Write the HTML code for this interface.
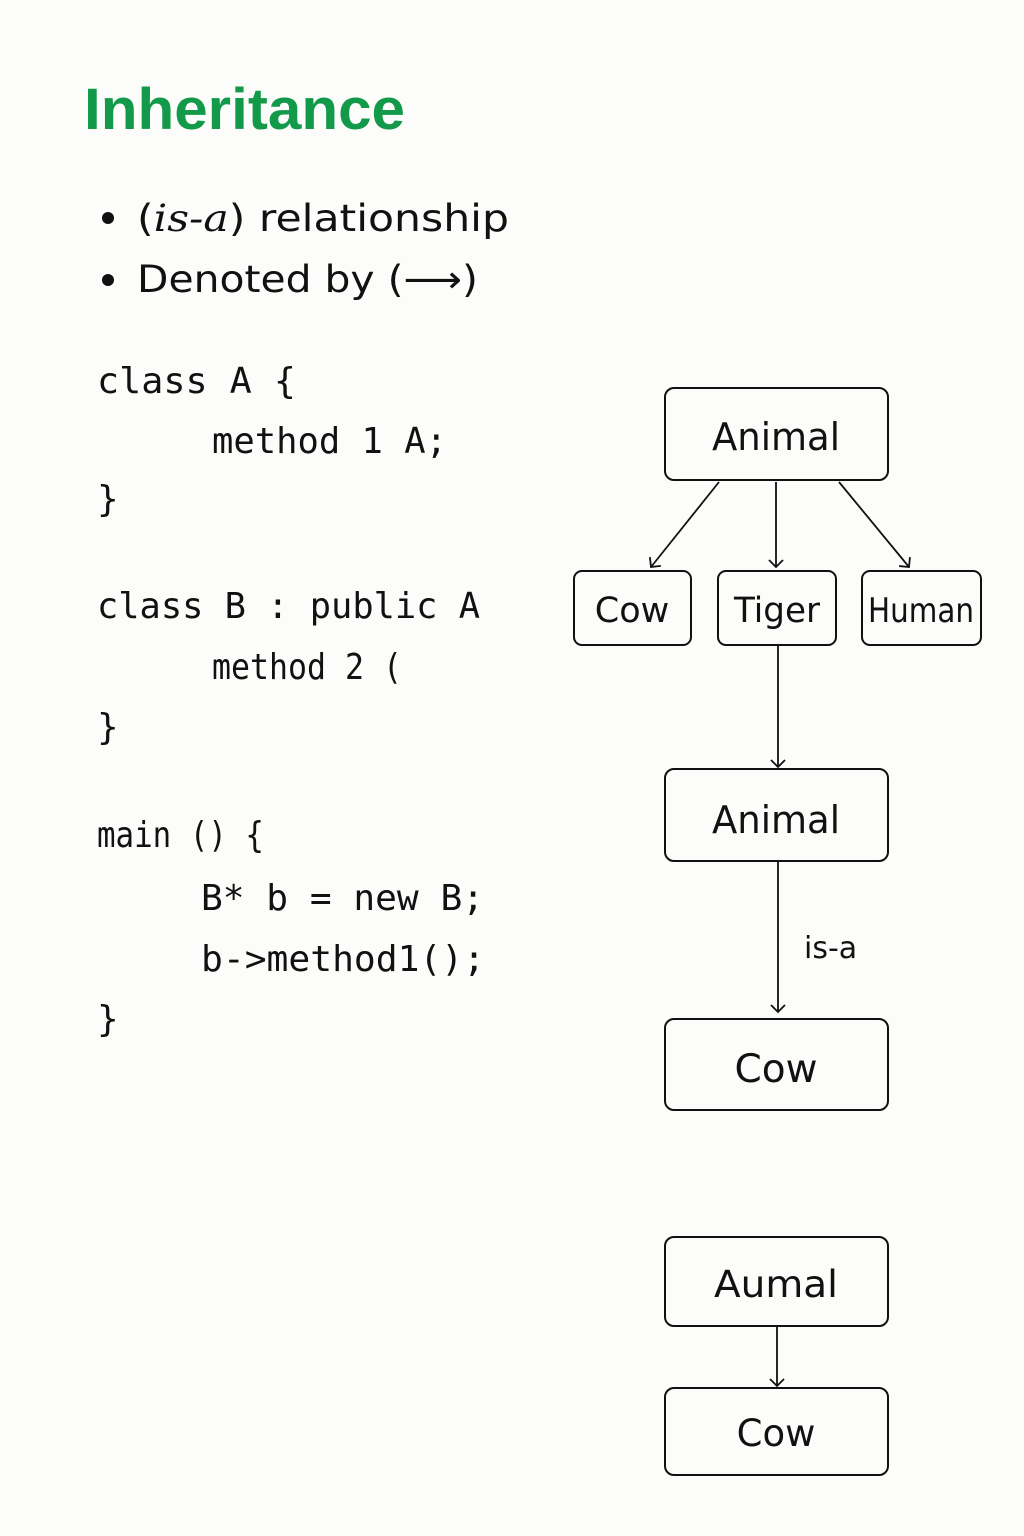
<!DOCTYPE html>
<html><head><meta charset="utf-8"><style>
html,body{margin:0;padding:0;background:#fcfcfa;}
svg{display:block;}
.m{font-family:"DejaVu Sans Mono","Liberation Mono",monospace;font-size:36px;fill:#111;}
.s{font-family:"DejaVu Sans","Liberation Sans",sans-serif;fill:#111;}
</style></head><body>
<svg width="1024" height="1536" viewBox="0 0 1024 1536" xmlns="http://www.w3.org/2000/svg">
<rect width="1024" height="1536" fill="#fcfcfa"/>
<defs><marker id="a" markerWidth="16" markerHeight="16" refX="8" refY="8" orient="auto" markerUnits="userSpaceOnUse"><path d="M1,1 L8,8 L1,15" fill="none" stroke="#111" stroke-width="1.8"/></marker></defs>
<text x="84" y="129" font-family="Liberation Sans,sans-serif" font-weight="bold" font-size="58" fill="#12994a" textLength="321" lengthAdjust="spacingAndGlyphs">Inheritance</text>
<circle cx="108" cy="218" r="6" fill="#111"/>
<circle cx="108" cy="280" r="6" fill="#111"/>
<text class="s" x="137" y="231" font-size="37" textLength="372" lengthAdjust="spacingAndGlyphs">(<tspan font-style="italic" font-family="DejaVu Serif,serif">is-a</tspan>)  relationship</text>
<text class="s" x="137" y="292" font-size="37" textLength="341" lengthAdjust="spacingAndGlyphs">Denoted by  (⟶)</text>
<text class="m" x="97" y="393" textLength="199" lengthAdjust="spacingAndGlyphs">class A {</text>
<text class="m" x="212" y="453" textLength="235" lengthAdjust="spacingAndGlyphs">method 1  A;</text>
<text class="m" x="97" y="511">}</text>
<text class="m" x="97" y="618" textLength="383" lengthAdjust="spacingAndGlyphs">class B : public A</text>
<text class="m" x="212" y="679" textLength="190" lengthAdjust="spacingAndGlyphs">method 2 (</text>
<text class="m" x="97" y="739">}</text>
<text class="m" x="97" y="847" textLength="167" lengthAdjust="spacingAndGlyphs">main () {</text>
<text class="m" x="201" y="910" textLength="283" lengthAdjust="spacingAndGlyphs">B* b = new B;</text>
<text class="m" x="201" y="971" textLength="284" lengthAdjust="spacingAndGlyphs">b->method1();</text>
<text class="m" x="97" y="1031">}</text>
<g fill="none" stroke="#111" stroke-width="2">
<rect x="665" y="388" width="223" height="92" rx="9"/>
<rect x="574" y="571" width="117" height="74" rx="8"/>
<rect x="718" y="571" width="118" height="74" rx="8"/>
<rect x="862" y="571" width="119" height="74" rx="8"/>
<rect x="665" y="769" width="223" height="92" rx="9"/>
<rect x="665" y="1019" width="223" height="91" rx="9"/>
<rect x="665" y="1237" width="223" height="89" rx="9"/>
<rect x="665" y="1388" width="223" height="87" rx="9"/>
</g>
<g stroke="#111" stroke-width="1.8" marker-end="url(#a)">
<line x1="719" y1="482" x2="651" y2="567"/>
<line x1="776" y1="482" x2="776" y2="567"/>
<line x1="839" y1="482" x2="909" y2="567"/>
<line x1="778" y1="645" x2="778" y2="767"/>
<line x1="778" y1="861" x2="778" y2="1012"/>
<line x1="777" y1="1326" x2="777" y2="1386"/>
</g>
<g class="s" text-anchor="middle">
<text x="776" y="450" font-size="38" textLength="128" lengthAdjust="spacingAndGlyphs">Animal</text>
<text x="632" y="622" font-size="35">Cow</text>
<text x="777" y="622" font-size="35" textLength="86" lengthAdjust="spacingAndGlyphs">Tiger</text>
<text x="921" y="622" font-size="34" textLength="106" lengthAdjust="spacingAndGlyphs">Human</text>
<text x="776" y="833" font-size="38" textLength="128" lengthAdjust="spacingAndGlyphs">Animal</text>
<text x="776" y="1082" font-size="39">Cow</text>
<text x="776" y="1297" font-size="37" textLength="124" lengthAdjust="spacingAndGlyphs">Aumal</text>
<text x="776" y="1446" font-size="37">Cow</text>
</g>
<text class="s" x="804" y="958" font-size="30">is-a</text>
</svg>
</body></html>
